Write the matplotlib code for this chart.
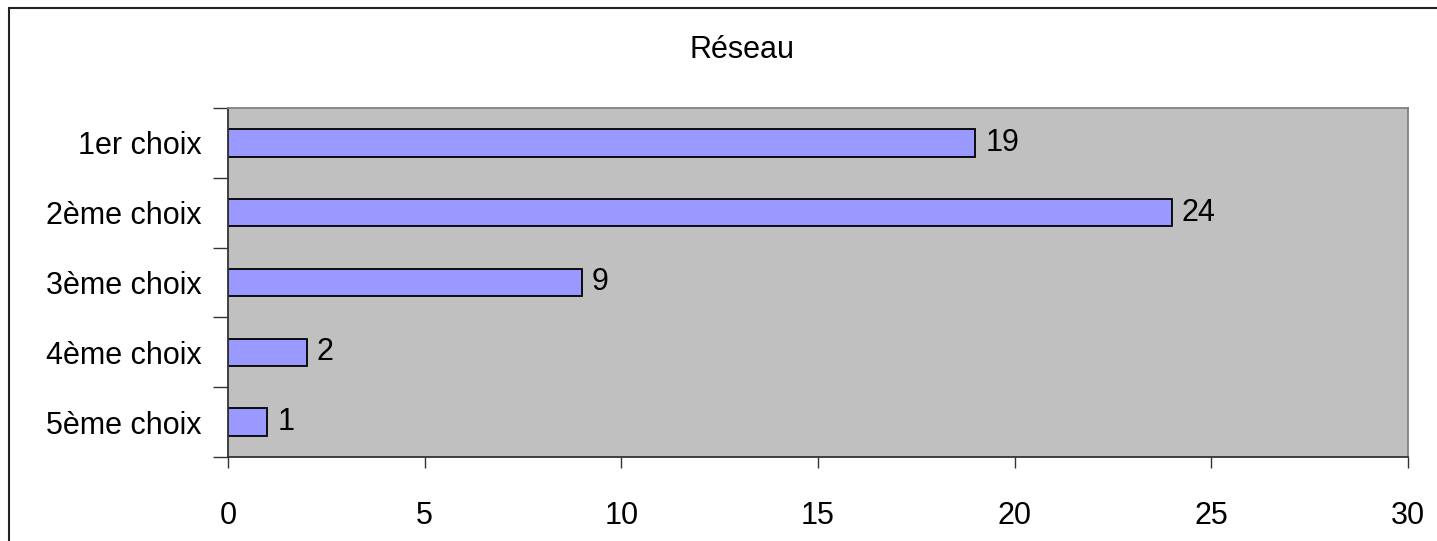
import matplotlib.pyplot as plt
from matplotlib.patches import Rectangle

plt.rcParams['font.family'] = ['Liberation Sans', 'DejaVu Sans']

categories = ["1er choix", "2ème choix", "3ème choix", "4ème choix", "5ème choix"]
values = [19, 24, 9, 2, 1]
x_ticks = [0, 5, 10, 15, 20, 25, 30]

fig = plt.figure(figsize=(14.37, 5.41), dpi=100)
fig.patch.set_facecolor('white')

# outer chart border (runs off the right and bottom edges)
fig.add_artist(Rectangle((9 / 1437, -0.05), 1.2, 1 - 8 / 541 + 0.05,
                         transform=fig.transFigure, fill=False,
                         edgecolor='#222222', linewidth=1.5))

ax = fig.add_axes([228 / 1437, 1 - 457 / 541, 1180 / 1437, 349 / 541])
ax.set_facecolor('#C0C0C0')

pos = list(range(len(categories)))
ax.barh(pos, values, height=0.39, color='#9999FF', edgecolor='black', linewidth=1.3)
for p, v in zip(pos, values):
    ax.text(v + 0.25, p, str(v), va='center', ha='left', fontsize=22)

ax.set_xlim(0, 30)
ax.set_ylim(len(categories) - 0.5, -0.5)
ax.set_xticks(x_ticks)
ax.set_xticklabels([str(t) for t in x_ticks], fontsize=22)
ax.set_yticks(pos)
ax.set_yticklabels(categories, fontsize=22)
ax.tick_params(axis='y', length=0, pad=19)
ax.set_yticks([i - 0.5 for i in range(len(categories) + 1)], minor=True)
ax.tick_params(axis='y', which='minor', length=11, width=1, color='#333333')
ax.tick_params(axis='x', length=8, width=1, color='#333333', pad=24)

ax.spines['left'].set_color('#333333')
ax.spines['bottom'].set_color('#333333')
ax.spines['left'].set_linewidth(1.3)
ax.spines['bottom'].set_linewidth(1.3)
ax.spines['top'].set_color('#808080')
ax.spines['right'].set_color('#808080')
ax.spines['top'].set_linewidth(1.3)
ax.spines['right'].set_linewidth(1.3)

fig.text(742 / 1437, 1 - 50 / 541, "Réseau", ha='center', va='center', fontsize=22)

fig.savefig('out.png', dpi=100)
